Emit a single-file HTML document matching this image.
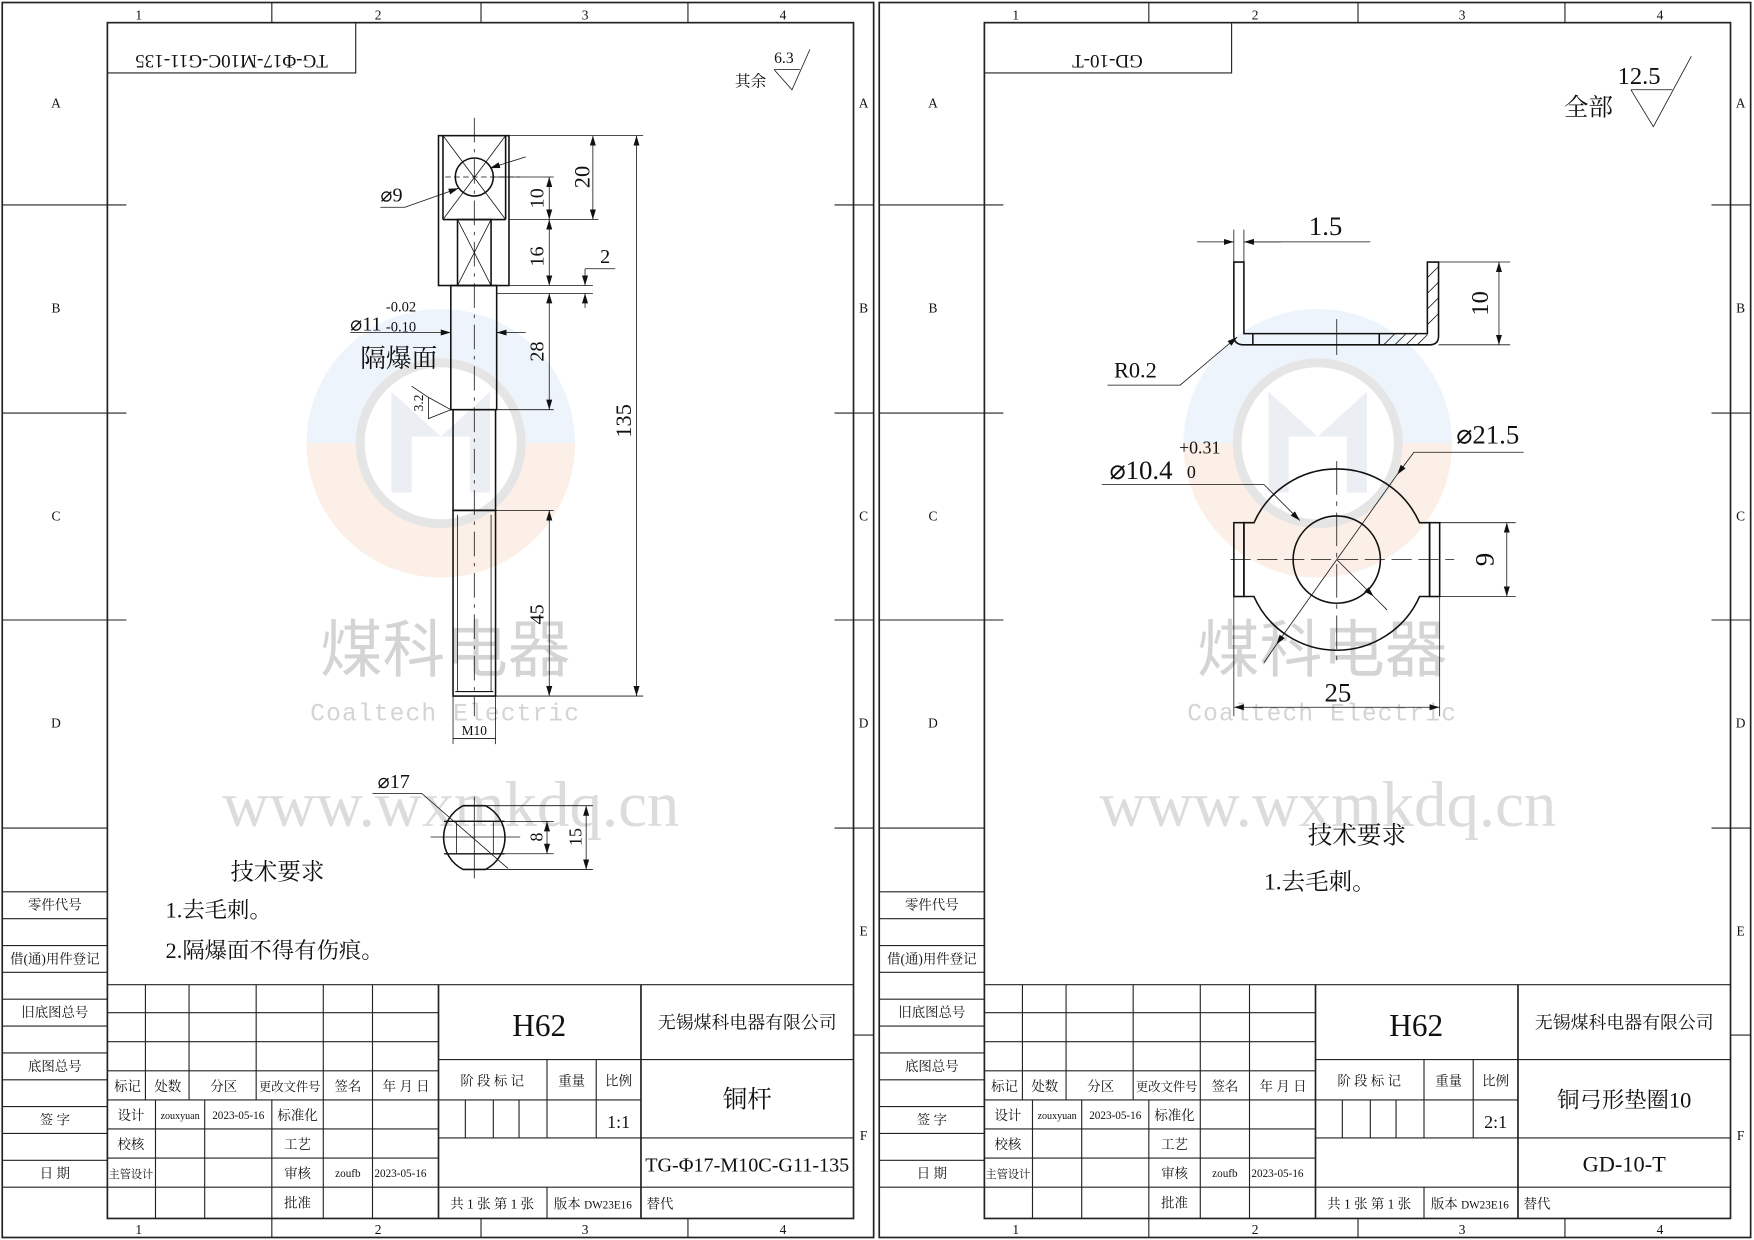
<!DOCTYPE html>
<html><head><meta charset="utf-8"><style>
html,body{margin:0;padding:0;background:#fff}
svg{display:block}
text{font-family:"Liberation Serif","Noto Serif CJK SC",serif;fill:#111}
.c{font-family:"Liberation Sans","Noto Sans CJK SC",sans-serif}
</style></head><body>
<svg width="1754" height="1240" viewBox="0 0 1568 1108" xmlns="http://www.w3.org/2000/svg">
<defs>
<marker id="a" viewBox="0 0 10 10" refX="10" refY="5" markerWidth="9" markerHeight="9" orient="auto-start-reverse" markerUnits="userSpaceOnUse"><path d="M0,2 L10,5 L0,8 z" fill="#111"/></marker>
<g id="frame">
<rect x="2" y="2" width="779" height="1104" fill="none" stroke="#222" stroke-width="1.5"/>
<rect x="96" y="20" width="667" height="1069" fill="none" stroke="#222" stroke-width="1.5"/>
<g stroke="#222" stroke-width="1">
<line x1="243" y1="2" x2="243" y2="20"/><line x1="430" y1="2" x2="430" y2="20"/><line x1="615" y1="2" x2="615" y2="20"/>
<line x1="243" y1="1089" x2="243" y2="1106"/><line x1="430" y1="1089" x2="430" y2="1106"/><line x1="615" y1="1089" x2="615" y2="1106"/>
<line x1="2" y1="183" x2="113" y2="183"/><line x1="2" y1="369" x2="113" y2="369"/><line x1="2" y1="554" x2="113" y2="554"/><line x1="2" y1="740" x2="96" y2="740"/>
<line x1="746" y1="183" x2="781" y2="183"/><line x1="746" y1="369" x2="781" y2="369"/><line x1="746" y1="554" x2="781" y2="554"/><line x1="746" y1="740" x2="781" y2="740"/><line x1="763" y1="925" x2="781" y2="925"/>
<line x1="2" y1="797" x2="96" y2="797"/><line x1="2" y1="821" x2="96" y2="821"/><line x1="2" y1="845" x2="96" y2="845"/><line x1="2" y1="869" x2="96" y2="869"/><line x1="2" y1="893" x2="96" y2="893"/><line x1="2" y1="917" x2="96" y2="917"/><line x1="2" y1="941" x2="96" y2="941"/><line x1="2" y1="965" x2="96" y2="965"/><line x1="2" y1="989" x2="96" y2="989"/><line x1="2" y1="1013" x2="96" y2="1013"/><line x1="2" y1="1037" x2="96" y2="1037"/><line x1="2" y1="1061" x2="96" y2="1061"/>
<line x1="96" y1="880" x2="763" y2="880"/>
<line x1="96" y1="905" x2="392" y2="905"/><line x1="96" y1="931" x2="392" y2="931"/><line x1="96" y1="957" x2="392" y2="957"/><line x1="96" y1="983" x2="392" y2="983"/><line x1="96" y1="1009" x2="392" y2="1009"/><line x1="96" y1="1035" x2="392" y2="1035"/><line x1="96" y1="1061" x2="763" y2="1061"/>
<line x1="130" y1="880" x2="130" y2="983"/><line x1="169" y1="880" x2="169" y2="983"/><line x1="229" y1="880" x2="229" y2="983"/>
<line x1="139" y1="983" x2="139" y2="1089"/><line x1="183" y1="983" x2="183" y2="1089"/><line x1="243" y1="983" x2="243" y2="1089"/>
<line x1="289" y1="880" x2="289" y2="1089"/><line x1="333" y1="880" x2="333" y2="1089"/>
<line x1="392" y1="880" x2="392" y2="1089" stroke-width="1.5"/><line x1="573" y1="880" x2="573" y2="1089" stroke-width="1.5"/>
<line x1="392" y1="947" x2="763" y2="947"/><line x1="392" y1="983" x2="573" y2="983"/><line x1="392" y1="1017" x2="763" y2="1017"/>
<line x1="416" y1="983" x2="416" y2="1017"/><line x1="441" y1="983" x2="441" y2="1017"/><line x1="464" y1="983" x2="464" y2="1017"/>
<line x1="489" y1="947" x2="489" y2="1017"/><line x1="533" y1="947" x2="533" y2="1017"/><line x1="489" y1="1061" x2="489" y2="1089"/>
</g>
<g font-size="12" text-anchor="middle">
<text x="124" y="17">1</text><text x="338" y="17">2</text><text x="523" y="17">3</text><text x="700" y="17">4</text>
<text x="124" y="1103">1</text><text x="338" y="1103">2</text><text x="523" y="1103">3</text><text x="700" y="1103">4</text>
<text x="50" y="96">A</text><text x="50" y="279">B</text><text x="50" y="465">C</text><text x="50" y="650">D</text>
<text x="772" y="96">A</text><text x="772" y="279">B</text><text x="772" y="465">C</text><text x="772" y="650">D</text><text x="772" y="836">E</text><text x="772" y="1019">F</text>
</g>
<g font-size="12" text-anchor="middle">
<text x="49" y="813">零件代号</text><text x="49" y="861">借(通)用件登记</text><text x="49" y="909">旧底图总号</text><text x="49" y="957">底图总号</text><text x="49" y="1005">签 字</text><text x="49" y="1053">日 期</text>
<text x="114" y="975">标记</text><text x="150" y="975">处数</text><text x="200" y="975">分区</text><text x="259" y="975" font-size="11">更改文件号</text><text x="311" y="975">签名</text><text x="363" y="975">年 月 日</text>
<text x="117" y="1001">设计</text><text x="161" y="1000" font-size="9">zouxyuan</text><text x="213" y="1000" font-size="10">2023-05-16</text><text x="266" y="1001">标准化</text>
<text x="117" y="1027">校核</text><text x="266" y="1027">工艺</text>
<text x="117" y="1053" font-size="10">主管设计</text><text x="266" y="1053">审核</text><text x="311" y="1052" font-size="10">zoufb</text><text x="358" y="1052" font-size="10">2023-05-16</text>
<text x="266" y="1079">批准</text>
<text x="440" y="970">阶 段 标 记</text><text x="511" y="970">重量</text><text x="553" y="970">比例</text>
<text x="440" y="1080">共 1 张  第 1 张</text><text x="530" y="1080">版本 <tspan font-size="10">DW23E16</tspan></text><text x="590" y="1080">替代</text>
<text x="668" y="919" font-size="16">无锡煤科电器有限公司</text>
<text x="482" y="926" font-size="28">H62</text>
</g>
</g>
</defs>

<g opacity="0.16">
<circle cx="394" cy="396" r="120" fill="#9cc0e8"/><path d="M274,396 A120,120 0 0 0 514,396 Z" fill="#f0a070"/>
<circle cx="394" cy="396" r="72" fill="#fff" stroke="#666" stroke-width="8"/>
<path d="M350,350 L394,390 L438,350 L438,440 L420,440 L420,390 L368,390 L368,440 L350,440Z" fill="#8899bb"/>
<circle cx="1178" cy="396" r="120" fill="#9cc0e8"/><path d="M1058,396 A120,120 0 0 0 1298,396 Z" fill="#f0a070"/>
<circle cx="1178" cy="396" r="72" fill="#fff" stroke="#666" stroke-width="8"/>
<path d="M1134,350 L1178,390 L1222,350 L1222,440 L1204,440 L1204,390 L1152,390 L1152,440 L1134,440Z" fill="#8899bb"/>
</g>
<g text-anchor="middle">
<text class="c" x="398" y="600" font-size="56" style="fill:#d4d4d4">煤科电器</text>
<text x="398" y="644" font-size="22" style="fill:#d4d4d4;font-family:'Liberation Mono',monospace" letter-spacing="1">Coaltech Electric</text>
<text x="403" y="738" font-size="58" style="fill:#dcdcdc">www.wxmkdq.cn</text>
<text class="c" x="1182" y="600" font-size="56" style="fill:#d4d4d4">煤科电器</text>
<text x="1182" y="644" font-size="22" style="fill:#d4d4d4;font-family:'Liberation Mono',monospace" letter-spacing="1">Coaltech Electric</text>
<text x="1187" y="738" font-size="58" style="fill:#dcdcdc">www.wxmkdq.cn</text>
</g>

<use href="#frame"/>
<use href="#frame" x="784"/>

<g font-size="16" text-anchor="middle">
<text x="553" y="1008">1:1</text><text x="668" y="990" font-size="22">铜杆</text><text x="668" y="1047" font-size="18">TG-Φ17-M10C-G11-135</text>
<text x="1337" y="1008">2:1</text><text x="1452" y="990" font-size="20">铜弓形垫圈10</text><text x="1452" y="1047" font-size="20">GD-10-T</text>
</g>
<g stroke="#222" stroke-width="1" fill="none"><path d="M96,65 H318 V20"/><path d="M880,65 H1101 V20"/></g>
<text x="207" y="37" font-size="17" text-anchor="middle" transform="rotate(180 207 43)">TG-Φ17-M10C-G11-135</text>
<text x="990" y="37" font-size="17" text-anchor="middle" transform="rotate(180 990 43)">GD-10-T</text>

<!-- LEFT PART -->
<g stroke="#111" stroke-width="1.4" fill="none">
<rect x="392" y="121" width="63" height="134"/>
<line x1="396" y1="121" x2="396" y2="196"/><line x1="452" y1="121" x2="452" y2="196"/><line x1="396" y1="196" x2="452" y2="196"/>
<rect x="409" y="196" width="30" height="59"/>
<circle cx="424" cy="158" r="17"/>
<rect x="403" y="255" width="41" height="111"/>
<rect x="405" y="366" width="38" height="90"/>
<rect x="405" y="456" width="38" height="166"/>
<line x1="407" y1="618" x2="441" y2="618" stroke-width="1"/>
<path d="M414,720 H434 A32,32 0 0 1 434,777 H414 A32,32 0 0 1 414,720 Z"/>
<line x1="397" y1="734" x2="451" y2="734" stroke-width="1.2"/><line x1="397" y1="763" x2="451" y2="763" stroke-width="1.2"/>
</g>
<g stroke="#111" stroke-width="0.7" fill="none">
<line x1="396" y1="121" x2="452" y2="196"/><line x1="452" y1="121" x2="396" y2="196"/>
<line x1="409" y1="196" x2="439" y2="255"/><line x1="439" y1="196" x2="409" y2="255"/>
<line x1="424" y1="105" x2="424" y2="640" stroke-dasharray="22,6,3,6"/>
<line x1="398" y1="158" x2="465" y2="158" stroke-dasharray="5,3"/>
<line x1="409" y1="460" x2="409" y2="618"/><line x1="439" y1="460" x2="439" y2="618"/>
<line x1="455" y1="121" x2="575" y2="121"/><line x1="455" y1="196" x2="535" y2="196"/><line x1="440" y1="158" x2="495" y2="158"/>
<line x1="455" y1="255" x2="530" y2="255"/><line x1="444" y1="262" x2="530" y2="262"/>
<line x1="444" y1="366" x2="495" y2="366"/><line x1="443" y1="456" x2="495" y2="456"/><line x1="443" y1="622" x2="575" y2="622"/>
<line x1="530" y1="121" x2="530" y2="196" marker-start="url(#a)" marker-end="url(#a)"/>
<line x1="491" y1="158" x2="491" y2="196" marker-start="url(#a)" marker-end="url(#a)"/>
<line x1="491" y1="196" x2="491" y2="255" marker-start="url(#a)" marker-end="url(#a)"/>
<line x1="491" y1="262" x2="491" y2="366" marker-start="url(#a)" marker-end="url(#a)"/>
<line x1="491" y1="456" x2="491" y2="622" marker-start="url(#a)" marker-end="url(#a)"/>
<line x1="569" y1="121" x2="569" y2="622" marker-start="url(#a)" marker-end="url(#a)"/>
<line x1="523" y1="240" x2="523" y2="255" marker-end="url(#a)"/><line x1="523" y1="275" x2="523" y2="262" marker-end="url(#a)"/>
<line x1="523" y1="240" x2="550" y2="240"/>
<path d="M340,185 L362,185 L410,168" marker-end="url(#a)"/><line x1="470" y1="140" x2="438" y2="150" marker-end="url(#a)"/>
<path d="M313,297 L403,297" marker-end="url(#a)"/><line x1="470" y1="297" x2="444" y2="297" marker-end="url(#a)"/>
<path d="M383,355 L403,366 L383,374 Z"/><line x1="383" y1="355" x2="368" y2="345"/>
<line x1="405" y1="622" x2="405" y2="665"/><line x1="443" y1="622" x2="443" y2="665"/>
<line x1="405" y1="660" x2="443" y2="660"/>
<path d="M692,62 L708,80 L724,44 M692,62 H715"/>
<line x1="408" y1="734" x2="408" y2="763"/><line x1="441" y1="734" x2="441" y2="763"/>
<line x1="451" y1="734" x2="495" y2="734"/><line x1="451" y1="763" x2="495" y2="763"/>
<line x1="434" y1="720" x2="530" y2="720"/><line x1="434" y1="777" x2="530" y2="777"/>
<line x1="489" y1="734" x2="489" y2="763" marker-start="url(#a)" marker-end="url(#a)"/>
<line x1="524" y1="720" x2="524" y2="777" marker-start="url(#a)" marker-end="url(#a)"/>
<path d="M333,709 L377,709 L454,776"/>
<line x1="424" y1="712" x2="424" y2="785"/><line x1="385" y1="748" x2="465" y2="748"/>
</g>
<g font-size="18" text-anchor="middle">
<text x="350" y="180">⌀9</text>
<text transform="translate(527,158) rotate(-90)" font-size="20">20</text>
<text transform="translate(486,177) rotate(-90)" font-size="18">10</text>
<text transform="translate(486,229) rotate(-90)" font-size="18">16</text>
<text x="541" y="235" font-size="18">2</text>
<text transform="translate(486,314) rotate(-90)" font-size="18">28</text>
<text transform="translate(564,376) rotate(-90)" font-size="20">135</text>
<text transform="translate(486,549) rotate(-90)" font-size="18">45</text>
<text transform="translate(378,360) rotate(-90)" font-size="12">3.2</text>
<text x="424" y="657" font-size="12">M10</text>
<text x="352" y="704" font-size="18">⌀17</text>
<text transform="translate(485,748) rotate(-90)" font-size="16">8</text>
<text transform="translate(520,748) rotate(-90)" font-size="16">15</text>
</g>
<text x="313" y="295" font-size="18">⌀11</text>
<text x="345" y="278" font-size="13">-0.02</text><text x="345" y="296" font-size="13">-0.10</text>
<text x="322" y="328" font-size="23">隔爆面</text>
<text x="657" y="77" font-size="14">其余</text><text x="692" y="56" font-size="14">6.3</text>
<text x="248" y="786" font-size="21" text-anchor="middle">技术要求</text>
<text x="148" y="820" font-size="20">1.去毛刺。</text>
<text x="148" y="856" font-size="20">2.隔爆面不得有伤痕。</text>

<!-- RIGHT PART -->
<g stroke="#111" stroke-width="1.4" fill="none">
<path d="M1103,234 H1112 V298 H1276 V234 H1286 V300 Q1286,308 1278,308 H1112 Q1103,308 1103,300 Z"/>
<line x1="1120" y1="298" x2="1120" y2="308"/><line x1="1233" y1="298" x2="1233" y2="308"/>
<path d="M1121,467 A81,81 0 0 1 1269,467 H1278 V533 H1269 A81,81 0 0 1 1121,533 H1112 V467 Z"/>
<rect x="1103" y="467" width="9" height="66"/><rect x="1278" y="467" width="9" height="66"/>
<circle cx="1195" cy="500" r="39"/>
</g>
<g stroke="#111" stroke-width="0.7" fill="none">
<path d="M1237,308 L1247,298 M1247,308 L1257,298 M1257,308 L1267,298 M1267,308 L1276,299 M1276,290 L1286,280 M1276,276 L1286,266 M1276,262 L1286,252 M1276,248 L1286,238"/>
<line x1="1195" y1="285" x2="1195" y2="317"/>
<line x1="1103" y1="234" x2="1103" y2="205"/><line x1="1112" y1="234" x2="1112" y2="205"/>
<line x1="1070" y1="216" x2="1103" y2="216" marker-end="url(#a)"/><line x1="1145" y1="216" x2="1112" y2="216" marker-end="url(#a)"/><line x1="1112" y1="216" x2="1225" y2="216"/>
<line x1="1286" y1="234" x2="1350" y2="234"/><line x1="1286" y1="308" x2="1350" y2="308"/>
<line x1="1340" y1="234" x2="1340" y2="308" marker-start="url(#a)" marker-end="url(#a)"/>
<path d="M990,344 L1055,344 L1106,301" marker-end="url(#a)"/>
<line x1="1100" y1="500" x2="1300" y2="500" stroke-dasharray="18,6"/>
<line x1="1195" y1="412" x2="1195" y2="592" stroke-dasharray="30,6,4,6"/>
<line x1="1287" y1="467" x2="1355" y2="467"/><line x1="1287" y1="533" x2="1355" y2="533"/>
<line x1="1347" y1="467" x2="1347" y2="533" marker-start="url(#a)" marker-end="url(#a)"/>
<line x1="1103" y1="533" x2="1103" y2="640"/><line x1="1287" y1="533" x2="1287" y2="640"/>
<line x1="1103" y1="632" x2="1287" y2="632" marker-start="url(#a)" marker-end="url(#a)"/>
<path d="M985,433 L1130,433 L1162,465" marker-end="url(#a)"/>
<line x1="1195" y1="500" x2="1228" y2="533" marker-end="url(#a)"/><line x1="1228" y1="533" x2="1240" y2="545"/>
<path d="M1362,404 L1264,404 L1249,424" marker-end="url(#a)"/>
<line x1="1249" y1="424" x2="1141" y2="576" marker-end="url(#a)"/><line x1="1141" y1="576" x2="1130" y2="592"/>
<path d="M1458,80 L1478,113 L1512,50 M1458,80 H1495"/>
</g>
<g font-size="24" text-anchor="middle">
<text x="1185" y="210">1.5</text>
<text transform="translate(1330,271) rotate(-90)" font-size="22">10</text>
<text x="1015" y="337" font-size="20">R0.2</text>
<text x="1330" y="396">⌀21.5</text>
<text x="1020" y="428">⌀10.4</text>
<text transform="translate(1335,500) rotate(-90)">9</text>
<text x="1196" y="627">25</text>
</g>
<text x="1054" y="405" font-size="16">+0.31</text><text x="1061" y="427" font-size="16">0</text>
<text x="1446" y="75" font-size="22">12.5</text><text x="1398" y="103" font-size="22">全部</text>
<text x="1213" y="754" font-size="22" text-anchor="middle">技术要求</text>
<text x="1130" y="795" font-size="21">1.去毛刺。</text>
</svg>
</body></html>
